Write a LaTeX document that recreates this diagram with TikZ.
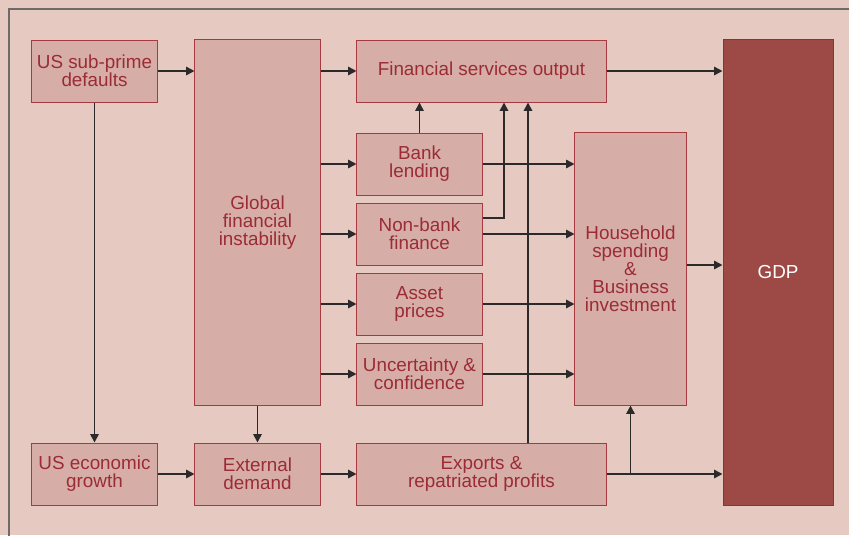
\documentclass[tikz,border=0pt]{standalone}
\usepackage{fontspec}
\setmainfont{Liberation Sans}
\usepackage{tikz}
\usetikzlibrary{arrows.meta}

\definecolor{bgpink}{HTML}{E6C9C1}
\definecolor{boxfill}{HTML}{D7AEA7}
\definecolor{boxline}{HTML}{A63A40}
\definecolor{boxtext}{HTML}{9B2B35}
\definecolor{gdpfill}{HTML}{9D4A47}
\definecolor{framegray}{HTML}{6E6A6A}
\definecolor{arrowgray}{HTML}{2B2929}

\tikzset{
	box/.style={draw=boxline,fill=boxfill,text=boxtext,line width=0.7pt,
		minimum width=3.125cm,minimum height=1.55cm,inner sep=0pt,align=center,
		font=\fontsize{13.4}{12.8}\selectfont},
	arr/.style={draw=arrowgray,line width=1.15pt,-{Triangle[length=6pt,width=6pt]}}
}

\begin{document}
\begin{tikzpicture}[x=0.025cm,y=-0.025cm]
	\useasboundingbox (0,0) rectangle (849,535);
	\clip (0,0) rectangle (849,535);
	\fill[bgpink] (0,0) rectangle (849,535);
	\draw[framegray,line width=1.1pt] (9,545) -- (9,9) -- (860,9);

	% left column and the tall box
	\node[box] (sub) at (94.5,71) {US sub-prime\\defaults};
	\node[box] (usg) at (94.5,474) {US economic\\growth};
	\node[box,minimum height=9.125cm] (gfi) at (257.5,222.5) {Global\\financial\\instability};
	\node[box] (ext) at (257.5,474) {External\\demand};

	% middle column
	\node[box,minimum width=6.225cm] (fso) at (481.5,71) {Financial services output};
	\node[box] (bank) at (419.5,164) {Bank\\lending};
	\node[box] (nonbank) at (419.5,234) {Non-bank\\finance};
	\node[box] (asset) at (419.5,304) {Asset\\prices};
	\node[box] (unc) at (419.5,374) {Uncertainty \&\\confidence};
	\node[box,minimum width=6.225cm] (exp) at (481.5,474) {Exports \&\\repatriated profits};

	% right side
	\node[box,minimum width=2.775cm,minimum height=6.8cm] (hh) at (630.5,269)
		{Household\\spending\\\&\\Business\\investment};
	\node[box,fill=gdpfill,draw=boxline!85!black,text=white,minimum width=2.75cm,
		minimum height=11.625cm] (gdp) at (778,272.5) {GDP};

	\coordinate (nb) at (504,218);
	\coordinate (up) at (528,0);

	\draw[arr] (sub.east) -- (sub.east -| gfi.west);
	\draw[arr] (sub.south) -- (usg.north);
	\draw[arr] (usg.east) -- (ext.west);
	\draw[arr] (gfi.south) -- (ext.north);
	\draw[arr] (ext.east) -- (exp.west);
	\draw[arr] (gfi.east |- fso) -- (fso.west);
	\foreach \n in {bank,nonbank,asset,unc}{
		\draw[arr] (gfi.east |- \n) -- (\n.west);
		\draw[arr] (\n.east) -- (\n.east -| hh.west);
	}
	\draw[arr] (bank.north) -- (bank.north |- fso.south);
	\draw[arr] (nonbank.east |- nb) -- (nb) -- (fso.south -| nb);
	\draw[arr] (exp.north -| up) -- (fso.south -| up);
	\draw[arr] (fso.east) -- (fso.east -| gdp.west);
	\draw[arr] ([yshift=0.1cm]hh.east) -- ([yshift=0.1cm]hh.east -| gdp.west);
	\draw[arr] (exp.east) -- (exp.east -| gdp.west);
	\draw[arr] (exp.east -| hh.south) -- (hh.south);
\end{tikzpicture}
\end{document}
